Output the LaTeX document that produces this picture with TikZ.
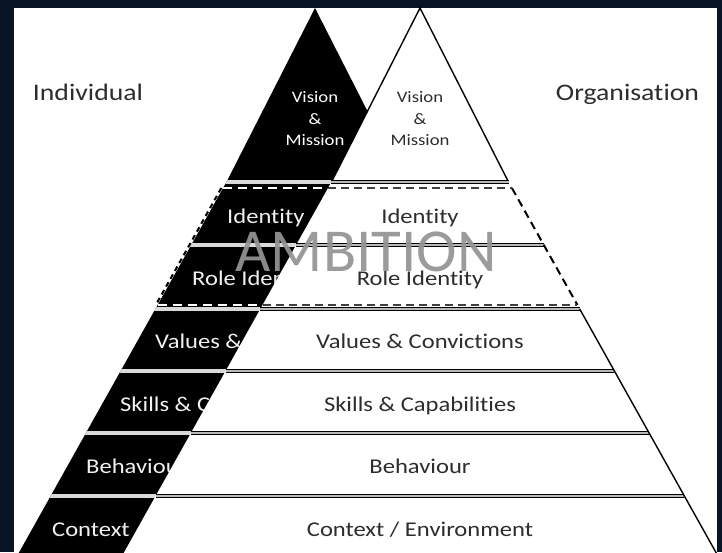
\documentclass[tikz,border=0pt]{standalone}
\usepackage{fontspec}
\newfontfamily\lab[FakeStretch=1.17,Ligatures={NoCommon}]{Carlito}
\newfontfamily\amb[Ligatures={NoCommon}]{Carlito}
\definecolor{framec}{RGB}{9,21,38}
\definecolor{txt}{RGB}{45,45,45}
\definecolor{ambgray}{RGB}{148,148,148}
\begin{document}
\begin{tikzpicture}[x=1pt,y=-1pt,
  lbl/.style={font=\lab\fontsize{21}{25}\selectfont, text=txt, inner sep=0pt, anchor=base},
  lblw/.style={font=\lab\fontsize{21}{25}\selectfont, text=white!94!black, inner sep=0pt, anchor=base west},
  vm/.style={font=\lab\fontsize{16}{20}\selectfont, inner sep=0pt, anchor=base},
  side/.style={font=\lab\fontsize{23.7}{28}\selectfont, text=txt, inner sep=0pt, anchor=base},
  sep/.style={line width=1.3pt, double=gray!55, double distance=1.8pt},
  bsep/.style={gray!30, line width=3.4pt},
  wdash/.style={white, line width=2.6pt, dash pattern=on 9pt off 6pt},
  kdash/.style={black!75, line width=1.6pt, dash pattern=on 8pt off 5pt},
  edash/.style={black, line width=2pt, dash pattern=on 8pt off 5pt},
]
\useasboundingbox (0,0) rectangle (722,552);
% frame
\fill[framec] (0,0) rectangle (722,552);
\fill[white] (14,8) rectangle (717,560);

% individual (black) pyramid
\fill[black] (315,8) -- (403,181) -- (615.2,560) -- (14.8,560) -- (227,181) -- cycle;
\begin{scope}
  \clip (315,8) -- (403,181) -- (615.2,560) -- (14.8,560) -- (227,181) -- cycle;
  \foreach \yy in {182,245,309,371,433,496} \draw[bsep] (0,\yy) -- (722,\yy);
  \draw[wdash] (223.1,188) -- (420,188);
  \draw[wdash] (157.6,305) -- (420,305);
\end{scope}
\draw[black, line width=2pt, dash pattern=on 5pt off 4pt] (221.3,188) -- (155.8,305);

% individual labels (partly hidden by the organisation pyramid)
\node[vm, text=white] (vb1) at (315,102) {Vision};
\node[vm, text=white] (vb2) at (315,124) {\&};
\node[vm, text=white] (vb3) at (315,145) {Mission};
\node[lblw] (bid)  at (227,223) {Identity};
\node[lblw] (brid) at (192,285) {Role Iden};
\node[lblw] (bval) at (155,348) {Values \&};
\node[lblw] (bski) at (120,411) {Skills \& C};
\node[lblw] (bbeh) at (86,473) {Behaviou};
\node[lblw] (bcon) at (52,536) {Context};

% organisation (white) pyramid
\fill[white] (420,8) -- (508,181) -- (720.2,560) -- (119.8,560) -- (332,181) -- cycle;
\draw[line width=1.4pt, line join=miter] (332,181) -- (420,8) -- (508,181);
\draw[sep] (331.4,182) -- (508.6,182);
\draw[sep] (296.2,245) -- (543.8,245);
\draw[sep] (260.3,309) -- (579.7,309);
\draw[sep] (225.6,371) -- (614.4,371);
\draw[sep] (190.9,433) -- (649.1,433);
\draw[sep] (155.6,496) -- (684.4,496);
\draw[line width=1.4pt] (579.7,309) -- (720.2,560);
\draw[edash] (511.9,188) -- (577.4,305);
\draw[kdash] (328.1,188) -- (511.9,188);
\draw[kdash] (262.6,305) -- (577.4,305);

% organisation labels
\node[vm, text=txt] (vw1) at (420,102) {Vision};
\node[vm, text=txt] (vw2) at (420,124) {\&};
\node[vm, text=txt] (vw3) at (420,145) {Mission};
\node[lbl] (wid)  at (420,223) {Identity};
\node[lbl] (wrid) at (420,285) {Role Identity};
\node[lbl] (wval) at (420,348) {Values \& Convictions};
\node[lbl] (wski) at (420,411) {Skills \& Capabilities};
\node[lbl] (wbeh) at (420,473) {Behaviour};
\node[lbl] (wcon) at (420,536) {Context / Environment};

% side titles
\node[side] (indiv) at (88,100) {Individual};
\node[side] (orga) at (627.5,100) {Organisation};

% ambition overlay
\node[font=\amb\fontsize{61}{61}\selectfont, text=ambgray, opacity=0.93, inner sep=0pt, anchor=base] (amb) at (366,271) {AMBITION};
\end{tikzpicture}
\end{document}
